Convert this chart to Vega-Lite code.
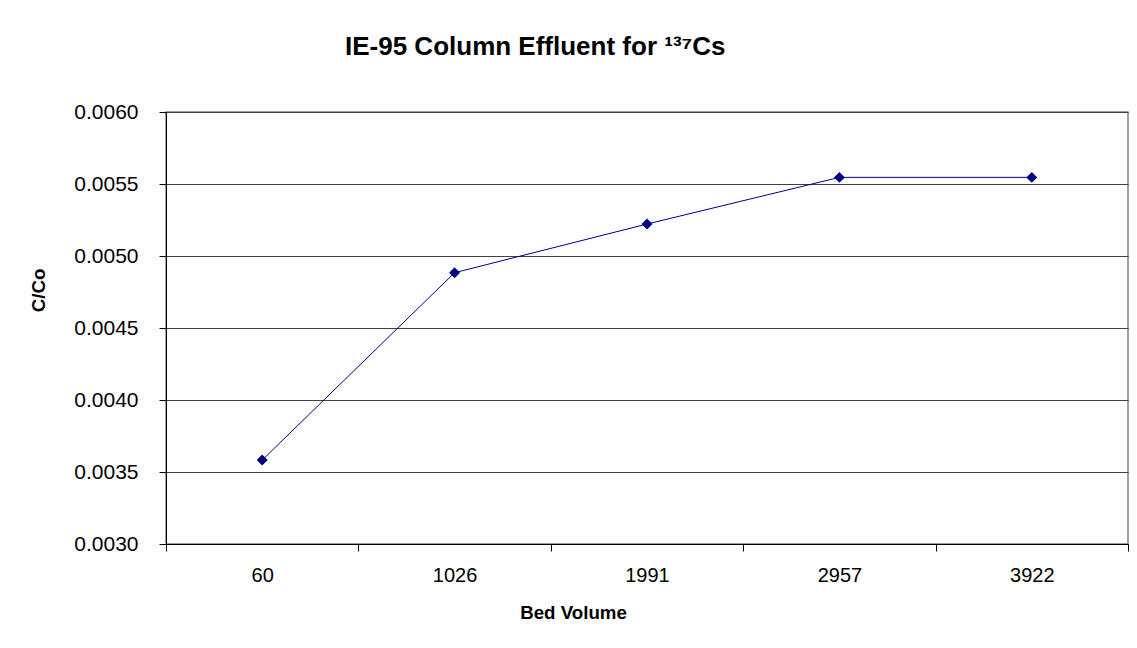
{
  "$schema": "https://vega.github.io/schema/vega-lite/v6.json",
  "autosize": "none",
  "width": 962,
  "height": 432,
  "padding": {"left": 166, "top": 112, "right": 9, "bottom": 104},
  "background": "white",
  "title": {
    "text": "IE-95 Column Effluent for ¹³⁷Cs",
    "font": "Liberation Sans",
    "fontSize": 26,
    "fontWeight": "bold",
    "color": "black",
    "anchor": "start",
    "frame": "group",
    "dx": 179,
    "offset": 20,
    "baseline": "alphabetic"
  },
  "config": {
    "font": "Liberation Sans",
    "view": {"stroke": "#808080", "strokeWidth": 1.5}
  },
  "data": {
    "values": [
      {"bv": "60", "c": 0.003583},
      {"bv": "1026", "c": 0.004884},
      {"bv": "1991", "c": 0.005222},
      {"bv": "2957", "c": 0.005546},
      {"bv": "3922", "c": 0.005546}
    ]
  },
  "encoding": {
    "x": {
      "field": "bv",
      "type": "ordinal",
      "sort": null,
      "scale": {"paddingInner": 0, "paddingOuter": 0},
      "axis": {
        "title": "Bed Volume",
        "titleFont": "Liberation Sans",
        "titleFontSize": 18.7,
        "titleFontWeight": "bold",
        "titleColor": "black",
        "titleX": 407,
        "titleY": 68,
        "titleBaseline": "middle",
        "labelAngle": 0,
        "labelFont": "Liberation Sans",
        "labelFontSize": 20,
        "labelColor": "black",
        "labelPadding": 14,
        "tickBand": "extent",
        "tickSize": 7,
        "tickColor": "black",
        "domainColor": "black",
        "grid": false
      }
    },
    "y": {
      "field": "c",
      "type": "quantitative",
      "scale": {"domain": [0.003, 0.006], "nice": false, "zero": false},
      "axis": {
        "title": "C/Co",
        "titleFont": "Liberation Sans",
        "titleFontSize": 18.7,
        "titleFontWeight": "bold",
        "titleColor": "black",
        "titleAngle": -90,
        "titleX": -128,
        "titleY": 178,
        "titleAlign": "center",
        "titleBaseline": "middle",
        "values": [0.003, 0.0035, 0.004, 0.0045, 0.005, 0.0055, 0.006],
        "format": ".4f",
        "labelFont": "Liberation Sans",
        "labelFontSize": 21,
        "labelColor": "black",
        "labelPadding": 21,
        "tickSize": 7,
        "tickColor": "black",
        "domainColor": "black",
        "grid": true,
        "gridColor": "#404040",
        "gridWidth": 1
      }
    }
  },
  "layer": [
    {"mark": {"type": "line", "color": "#000080", "strokeWidth": 1}},
    {"mark": {"type": "point", "shape": "diamond", "filled": true, "size": 120, "color": "#000080", "opacity": 1}}
  ]
}
